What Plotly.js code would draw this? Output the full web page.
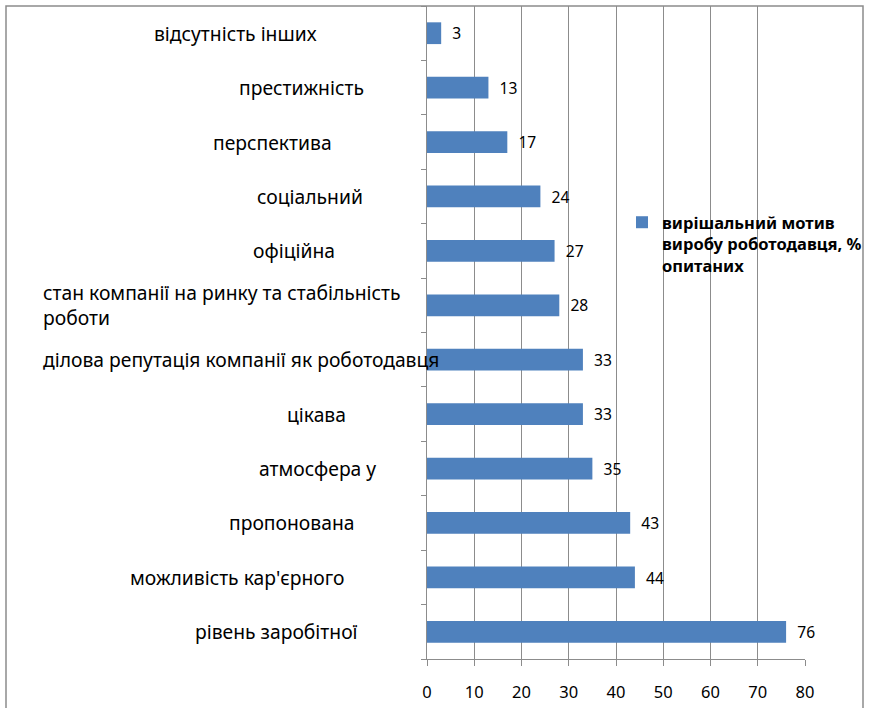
<!DOCTYPE html>
<html>
<head>
<meta charset="utf-8">
<script src="https://cdn.plot.ly/plotly-3.0.1.min.js"></script>
<style>
html,body{margin:0;padding:0;background:#fff;}
#chart{width:869px;height:708px;}
</style>
</head>
<body>
<div id="chart"></div>
<script>
// categories, bottom to top
var categories = [
  "рівень заробітної",
  "можливість кар'єрного",
  "пропонована",
  "атмосфера у",
  "цікава",
  "ділова репутація компанії як роботодавця",
  "стан компанії на ринку та стабільність<br>роботи",
  "офіційна",
  "соціальний",
  "перспектива",
  "престижність",
  "відсутність інших"
];
var values = [76, 44, 43, 35, 33, 33, 28, 27, 24, 17, 13, 3];
var seriesName = "вирішальний мотив<br>виробу роботодавця, %<br>опитаних";
var xTicks = [0, 10, 20, 30, 40, 50, 60, 70, 80];

// label placement (pixels) – styling only
var labelCenterPx = [276, 237, 291, 317, 316, 41, 41, 294, 310, 272, 301, 236];
var labelAnchor = ["center","center","center","center","center","left","left","center","center","center","center","center"];

var L = 427, R = 64, T = 6, B = 49, W = 869, H = 708;
var pw = W - L - R, ph = H - T - B;

var font = "Noto Sans, Open Sans, sans-serif";
var annotations = categories.map(function(c, i){
  return {
    xref: "paper", yref: "y",
    x: (labelCenterPx[i] - L) / pw, y: c,
    text: c, showarrow: false,
    xanchor: labelAnchor[i], yanchor: "middle",
    align: "left",
    font: {family: font, size: 19.3, color: "#000"}
  };
});

var trace = {
  type: "bar", orientation: "h",
  x: values, y: categories,
  name: seriesName,
  marker: {color: "#4F81BD"},
  text: values.map(String),
  texttemplate: "  %{x}",
  textposition: "outside",
  textfont: {family: font, size: 16.5, color: "#000"},
  cliponaxis: false,
  showlegend: true
};

var layout = {
  width: W, height: H,
  margin: {l: L, r: R, t: T, b: B, autoexpand: false},
  paper_bgcolor: "#fff", plot_bgcolor: "#fff",
  bargap: 0.6,
  showlegend: true,
  legend: {
    xref: "container", yref: "container",
    x: 622 / W, y: 1 - 205 / H,
    xanchor: "left", yanchor: "top",
    bgcolor: "rgba(0,0,0,0)",
    valign: "top",
    font: {family: font, size: 16.5, color: "#000", weight: "bold"}
  },
  xaxis: {
    range: [0, 80],
    tickvals: xTicks,
    showgrid: true, gridcolor: "#8c8c8c", gridwidth: 1,
    showline: true, linecolor: "#8c8c8c",
    ticks: "outside", ticklen: 6, tickcolor: "#8c8c8c",
    ticklabelstandoff: 12,
    tickfont: {family: font, size: 16.5, color: "#000"},
    zeroline: false, fixedrange: true
  },
  yaxis: {
    type: "category",
    categoryorder: "array", categoryarray: categories,
    showticklabels: false,
    showline: true, linecolor: "#8c8c8c",
    ticks: "outside", ticklen: 5, tickcolor: "#8c8c8c",
    tickson: "boundaries",
    showgrid: false, fixedrange: true
  },
  annotations: annotations,
  shapes: [{
    type: "rect", xref: "paper", yref: "paper",
    x0: (6 - L) / pw, x1: (863 - L) / pw,
    y0: -0.2, y1: 1,
    line: {color: "#8c8c8c", width: 1.5},
    fillcolor: "rgba(0,0,0,0)",
    layer: "below"
  }]
};

Plotly.newPlot("chart", [trace], layout, {displayModeBar: false, staticPlot: true});
</script>
</body>
</html>
